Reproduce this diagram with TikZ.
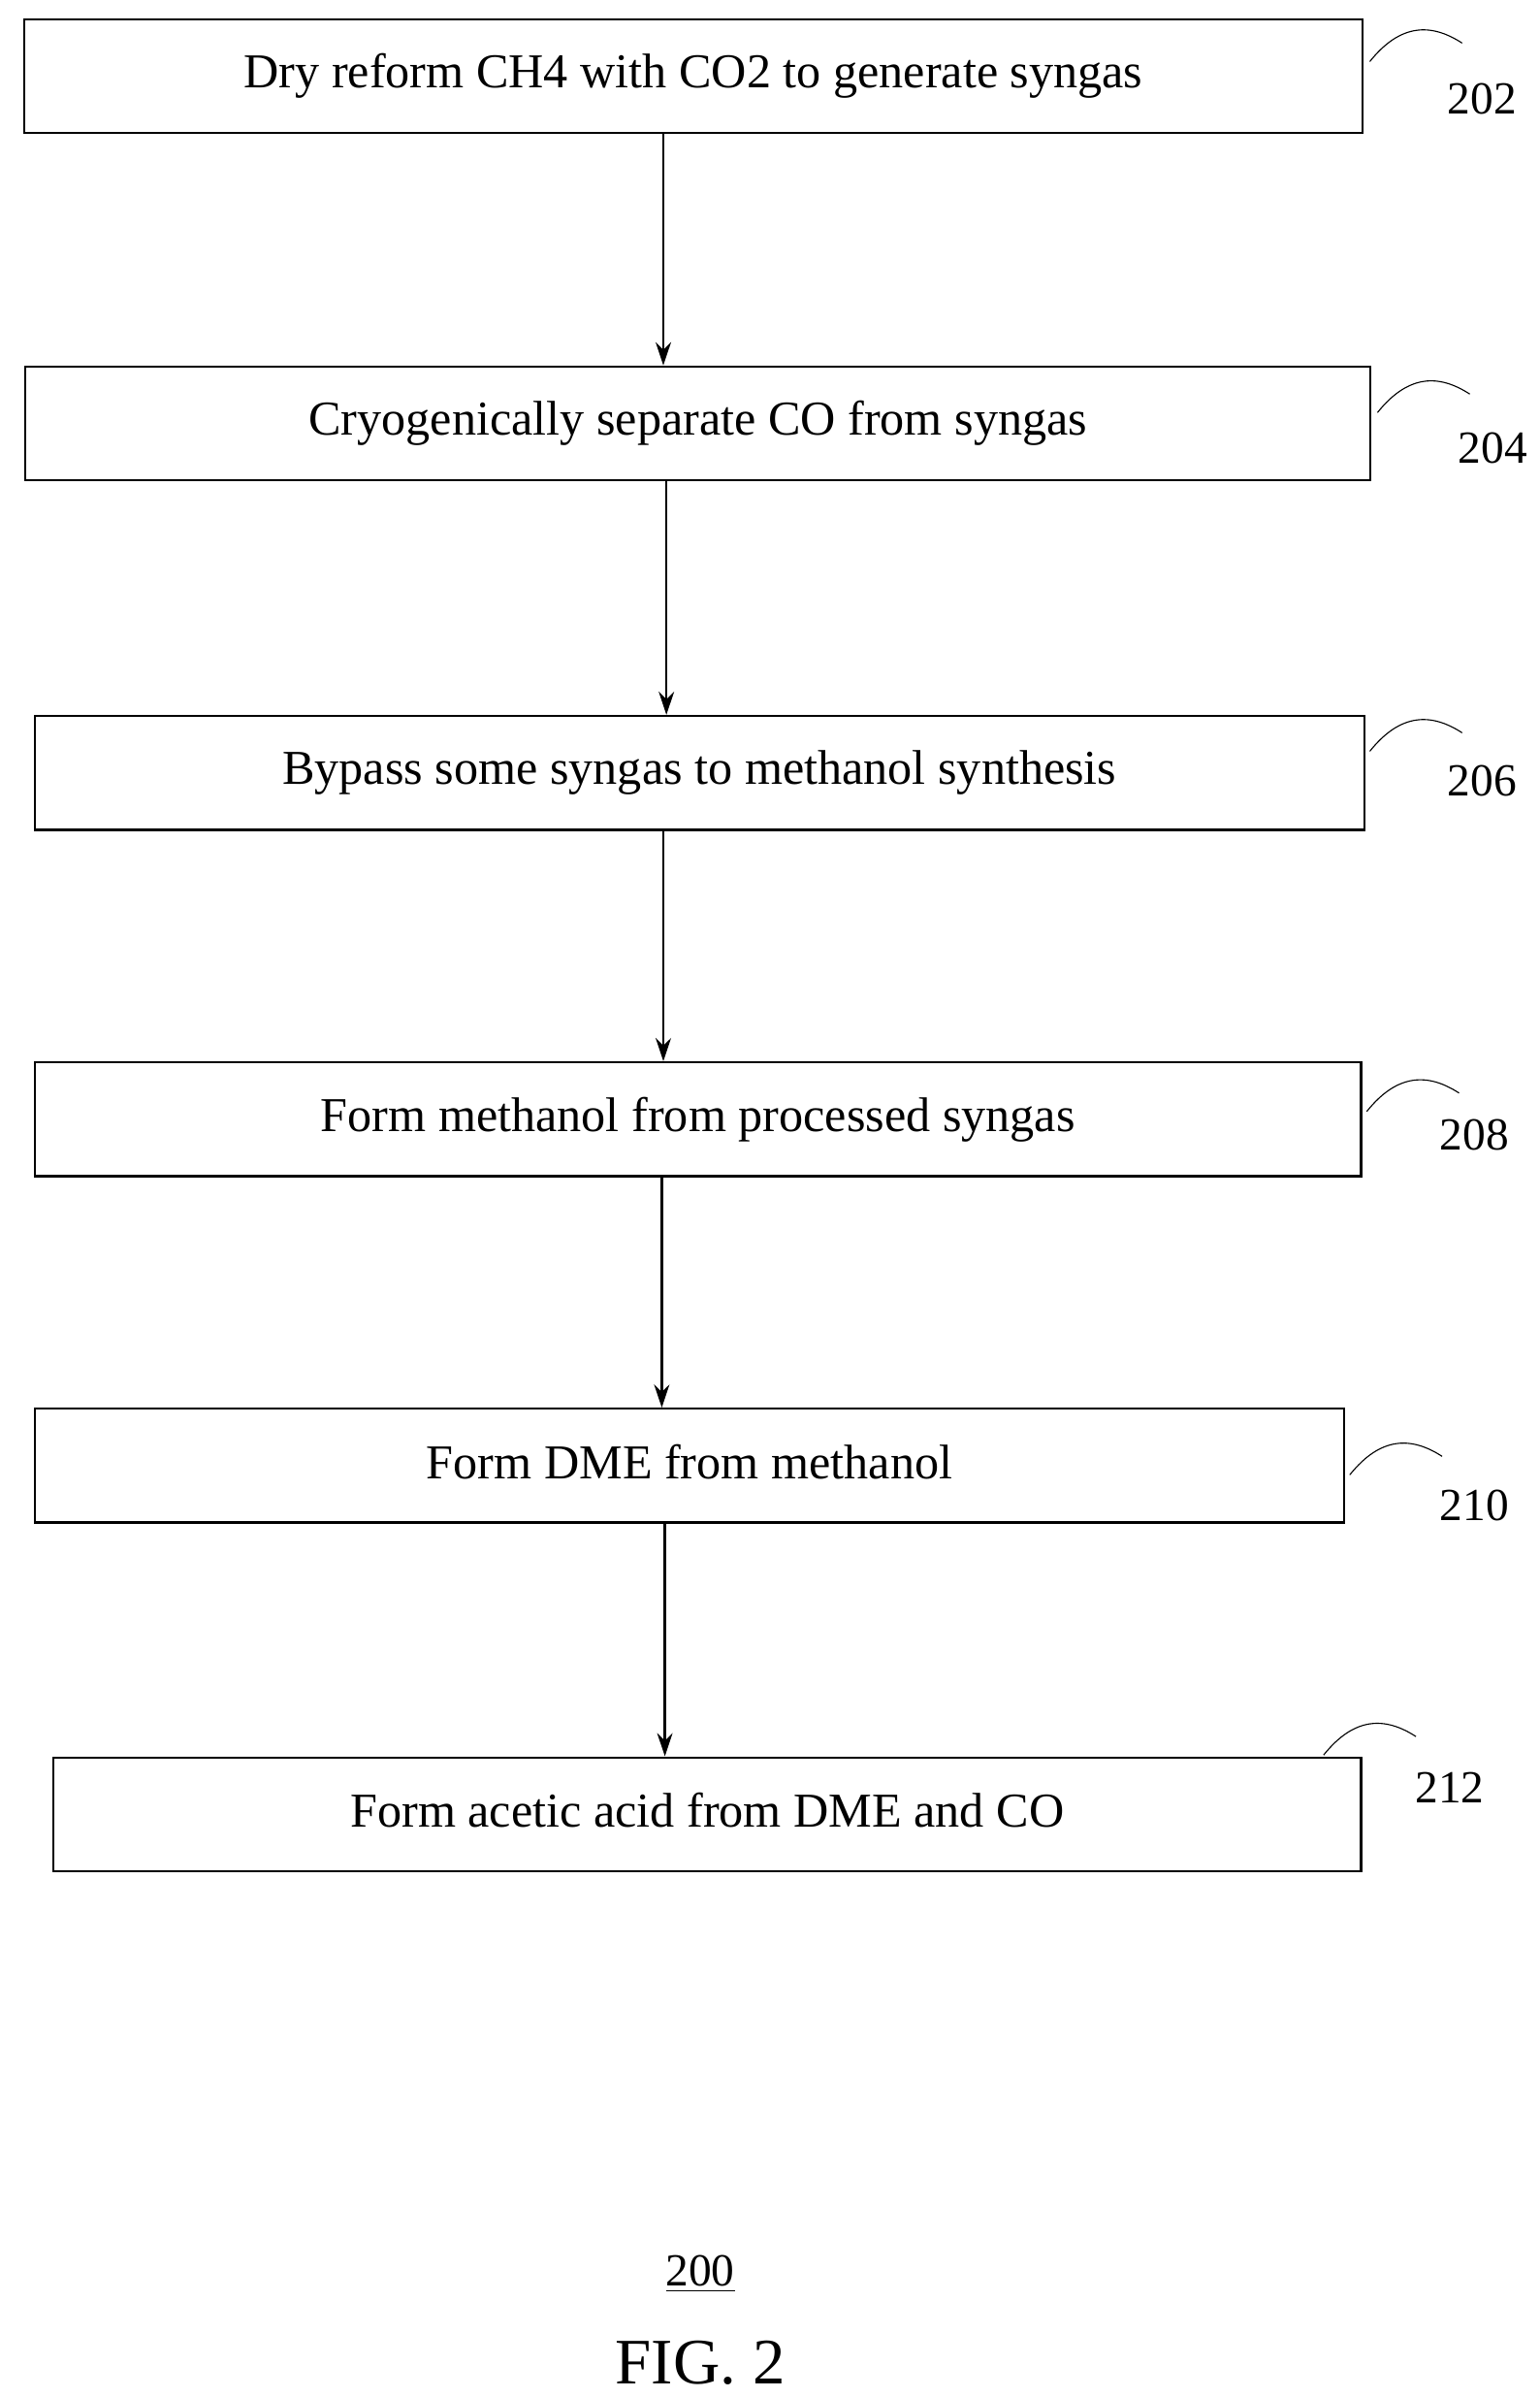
\documentclass[tikz,border=0pt]{standalone}
\usepackage{fontspec}
\setmainfont{Liberation Serif}
\usetikzlibrary{arrows.meta,positioning}
\tikzset{
    stage/.style={rectangle, draw=black, thick, text centered, font=\fontsize{18}{21}\selectfont, minimum height=1.48cm, inner sep=0pt},
    ref/.style={font=\fontsize{17}{20}\selectfont},
    arrow/.style={thick, -{Stealth[length=3mm,width=2mm]}},
}
\begin{document}
\begin{tikzpicture}[x=0.02cm, y=-0.02cm]
\useasboundingbox (0,0) rectangle (1000,1557);

% stages
\node[stage, minimum width=17.4cm] (s202) at (450.5,49.5) {\raisebox{3pt}{Dry reform CH4 with CO2 to generate syngas}};
\node[stage, minimum width=17.48cm] (s204) at (453.5,275) {\raisebox{3pt}{Cryogenically separate CO from syngas}};
\node[stage, minimum width=17.28cm] (s206) at (454.5,502) {\raisebox{3pt}{Bypass some syngas to methanol synthesis}};
\node[stage, minimum width=17.24cm] (s208) at (453.5,727) {\raisebox{3pt}{Form methanol from processed syngas}};
\node[stage, minimum width=17.02cm] (s210) at (448,952) {\raisebox{3pt}{Form DME from methanol}};
\node[stage, minimum width=17.0cm] (s212) at (459.5,1178.5) {\raisebox{3pt}{Form acetic acid from DME and CO}};

% arrows
\draw[arrow] (s202.south -| 431,0) -- (s204.north -| 431,0);
\draw[arrow] (s204.south -| 433,0) -- (s206.north -| 433,0);
\draw[arrow] (s206.south -| 431,0) -- (s208.north -| 431,0);
\draw[arrow] (s208.south -| 430,0) -- (s210.north -| 430,0);
\draw[arrow] (s210.south -| 432,0) -- (s212.north -| 432,0);

% reference numerals
\node[ref] (r202) at (963,64) {202};
\node[ref] (r204) at (970,291) {204};
\node[ref] (r206) at (963,507) {206};
\node[ref] (r208) at (958,737) {208};
\node[ref] (r210) at (958,978) {210};
\node[ref] (r212) at (942,1161) {212};
\foreach \x/\y in {890/40, 895/268, 890/488, 888/722, 877/958, 860/1140}
  \draw (\x,\y) .. controls (\x+20,\y-25) and (\x+40,\y-25) .. (\x+60,\y-12);

\node[ref] (fig) at (455,1477) {\underline{200}};
\node[font=\fontsize{24}{28}\selectfont] (cap) at (455,1535) {FIG. 2};
\end{tikzpicture}
\end{document}
